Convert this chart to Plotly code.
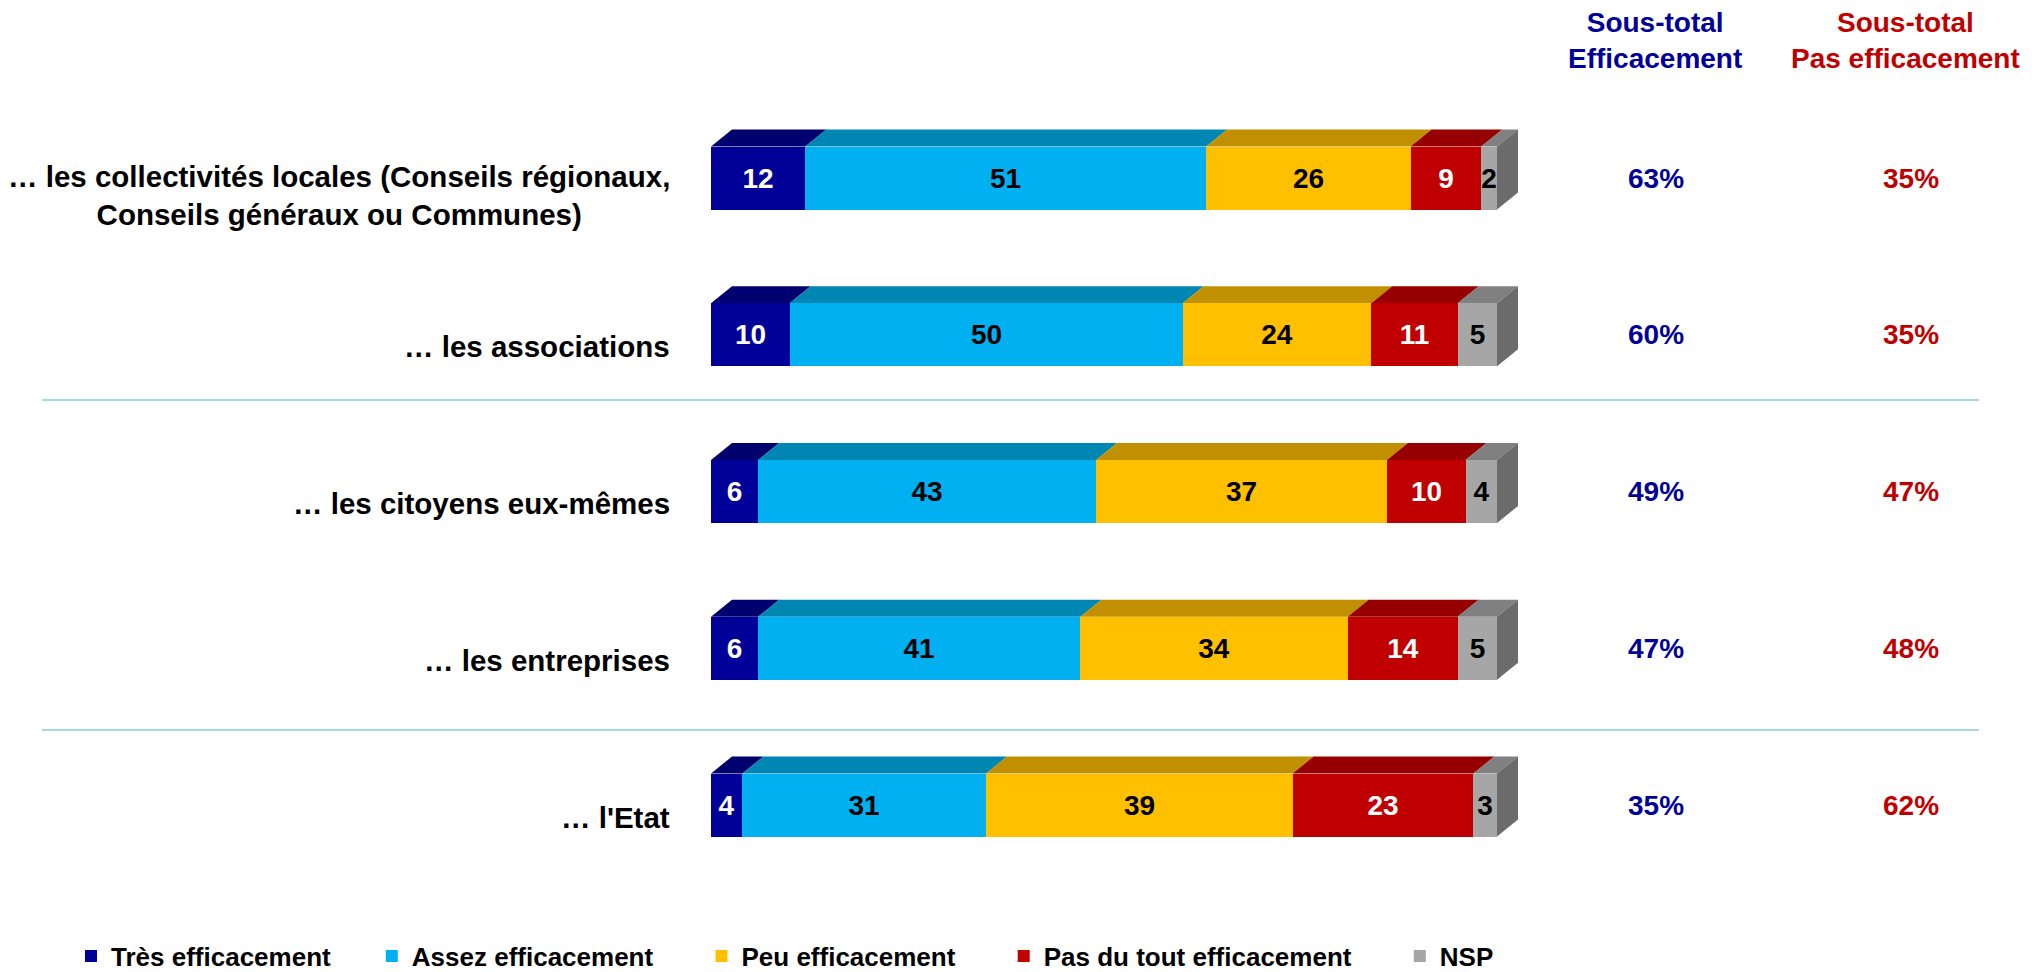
import plotly.graph_objects as go

categories = [
    "… les collectivités locales (Conseils régionaux,<br>Conseils généraux ou Communes)",
    "… les associations",
    "… les citoyens eux-mêmes",
    "… les entreprises",
    "… l'Etat",
]
series_names = ["Très efficacement", "Assez efficacement", "Peu efficacement",
                "Pas du tout efficacement", "NSP"]
tres = [12, 10, 6, 6, 4]
assez = [51, 50, 43, 41, 31]
peu = [26, 24, 37, 34, 39]
pas_du_tout = [9, 11, 10, 14, 23]
nsp = [2, 5, 4, 5, 3]
series_values = [tres, assez, peu, pas_du_tout, nsp]

header_eff = "Sous-total<br>Efficacement"
header_pas = "Sous-total<br>Pas efficacement"

front_colors = ["#000099", "#00b0f0", "#ffc000", "#c00000", "#a6a6a6"]
top_colors = ["#00006e", "#0086b3", "#c09000", "#960000", "#808080"]
side_color = "#6b6b6b"
text_colors = ["white", "black", "black", "white", "black"]
legend_pad = [5, 6, 6, 6, 0]   # non-breaking spaces to space legend entries
BLUE = "#000099"
RED = "#c00000"
FONT = "Liberation Sans, Arial, sans-serif"

OFF = 8                       # page body margin
W, H = 2037 - OFF, 972 - OFF
X0_PX = 711.0 - OFF           # pixel where value 0 sits
px_per_unit = 786.0 / 100.0   # 100% spans 786 px
x_lo = -X0_PX / px_per_unit
x_hi = (W - X0_PX) / px_per_unit
row0_px, row_step_px = 178.0 - OFF, 156.75
y_lo = -row0_px / row_step_px
y_hi = (H - row0_px) / row_step_px
bar_w = 63.0 / row_step_px
dx = 21.0 / px_per_unit
dy = 17.0 / row_step_px


def px_to_x(p):
    return (p - OFF - X0_PX) / px_per_unit


def py_to_paper(p):
    return 1 - (p - OFF) / H


fig = go.Figure()
ypos = list(range(len(categories)))
for name, vals, fc, tc, pad in zip(series_names, series_values, front_colors,
                                   text_colors, legend_pad):
    fig.add_trace(go.Bar(
        name=name + "\u00a0" * pad, x=vals, y=ypos, orientation="h", width=bar_w,
        marker=dict(color=fc, line=dict(width=0)),
        text=vals, texttemplate="%{text}", textposition="inside",
        insidetextanchor="middle",
        textfont=dict(family=FONT, size=28, color=tc, weight="bold"),
        hoverinfo="skip",
    ))

# 3D faces derived from data
shapes = []
for r in ypos:
    start = 0.0
    yt = r - bar_w / 2
    yb = r + bar_w / 2
    for k, vals in enumerate(series_values):
        x0 = start
        x1 = start + vals[r]
        path = f"M {x0},{yt} L {x0+dx},{yt-dy} L {x1+dx},{yt-dy} L {x1},{yt} Z"
        shapes.append(dict(type="path", path=path, xref="x", yref="y",
                           fillcolor=top_colors[k], line=dict(width=0), layer="below"))
        start = x1
    path = f"M {start},{yt} L {start+dx},{yt-dy} L {start+dx},{yb-dy} L {start},{yb} Z"
    shapes.append(dict(type="path", path=path, xref="x", yref="y",
                       fillcolor=side_color, line=dict(width=0), layer="below"))

# separators
for ypx in [400, 730]:
    shapes.append(dict(type="line", xref="paper", yref="paper",
                       x0=(42 - OFF) / W, x1=(1979 - OFF) / W,
                       y0=py_to_paper(ypx), y1=py_to_paper(ypx),
                       line=dict(color="#a9d9df", width=2)))

annotations = []
for r, cat in enumerate(categories):
    two = "<br>" in cat
    annotations.append(dict(x=0, y=r, xref="x", yref="y", text=cat, showarrow=False,
                            xanchor="right", yanchor="middle", align="center",
                            xshift=-39, yshift=-17 if two else -12,
                            font=dict(family=FONT, size=29.5, color="black", weight="bold")))
    eff = tres[r] + assez[r]
    pas = peu[r] + pas_du_tout[r]
    annotations.append(dict(x=px_to_x(1656), y=r, xref="x", yref="y",
                            text=f"{eff}%", showarrow=False, xanchor="center", yanchor="middle",
                            font=dict(family=FONT, size=28, color=BLUE, weight="bold")))
    annotations.append(dict(x=px_to_x(1911), y=r, xref="x", yref="y",
                            text=f"{pas}%", showarrow=False, xanchor="center", yanchor="middle",
                            font=dict(family=FONT, size=28, color=RED, weight="bold")))

annotations.append(dict(x=px_to_x(1655), y=py_to_paper(40.5), xref="x", yref="paper",
                        text=header_eff, showarrow=False, xanchor="center", yanchor="middle",
                        align="center",
                        font=dict(family=FONT, size=28, color=BLUE, weight="bold")))
annotations.append(dict(x=px_to_x(1905), y=py_to_paper(40.5), xref="x", yref="paper",
                        text=header_pas, showarrow=False, xanchor="center", yanchor="middle",
                        align="center",
                        font=dict(family=FONT, size=28, color=RED, weight="bold")))

fig.update_layout(
    width=W, height=H, barmode="stack", bargap=0,
    margin=dict(l=0, r=0, t=0, b=0, autoexpand=False),
    plot_bgcolor="white", paper_bgcolor="white",
    xaxis=dict(range=[x_lo, x_hi], visible=False, fixedrange=True),
    yaxis=dict(range=[y_hi, y_lo], visible=False, fixedrange=True),
    shapes=shapes, annotations=annotations,
    uniformtext=dict(minsize=28, mode="show"),
    showlegend=True,
    legend=dict(orientation="h", traceorder="normal",
                x=(71 - OFF) / W, y=py_to_paper(956), xanchor="left", yanchor="middle",
                font=dict(family=FONT, size=26, color="black", weight="bold"),
                itemwidth=30, tracegroupgap=0, bgcolor="rgba(0,0,0,0)"),
)

fig.write_html("out.html")
